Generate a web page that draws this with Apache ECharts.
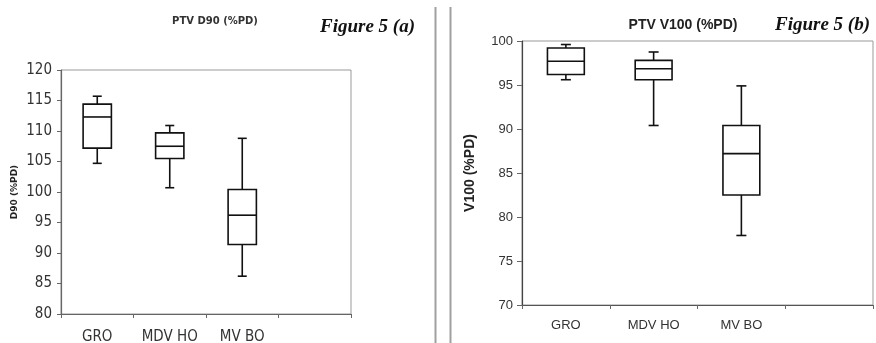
<!DOCTYPE html>
<html>
<head>
<meta charset="utf-8">
<script src="https://cdn.jsdelivr.net/npm/echarts@6/dist/echarts.min.js"></script>
<style>
html,body{margin:0;padding:0;background:#fff;}
#chart{width:876px;height:343px;}
</style>
</head>
<body>
<div id="chart"></div>
<script>
// Categories (4th band is empty in the original figure)
const categories = ['GRO', 'MDV HO', 'MV BO', ''];

// Figure 5 (a): PTV D90 (%PD)  [min, Q1, median, Q3, max]
const d90Min    = [104.7, 100.7, 86.2];
const d90Q1     = [107.2, 105.5, 91.4];
const d90Median = [112.3, 107.5, 96.2];
const d90Q3     = [114.4, 109.7, 100.4];
const d90Max    = [115.7, 110.9, 108.8];

// Figure 5 (b): PTV V100 (%PD)
const v100Min    = [95.6, 90.4, 77.9];
const v100Q1     = [96.2, 95.6, 82.5];
const v100Median = [97.7, 96.85, 87.2];
const v100Q3     = [99.2, 97.8, 90.4];
const v100Max    = [99.6, 98.75, 94.9];

const leftTicks = [80, 85, 90, 95, 100, 105, 110, 115, 120];
const rightTicks = [70, 75, 80, 85, 90, 95, 100];

function buildData(mn, q1, md, q3, mx) {
  return mn.map((v, i) => [i, mn[i], q1[i], md[i], q3[i], mx[i]]);
}

function makeRender(boxFrac, capPx) {
  return function (params, api) {
    const x = api.value(0);
    const pMin = api.coord([x, api.value(1)]);
    const pQ1 = api.coord([x, api.value(2)]);
    const pMed = api.coord([x, api.value(3)]);
    const pQ3 = api.coord([x, api.value(4)]);
    const pMax = api.coord([x, api.value(5)]);
    const band = api.size([1, 0])[0];
    const hw = band * boxFrac / 2;
    const cx = pMed[0];
    const cw = capPx / 2;
    const ls = { stroke: '#111', lineWidth: 1.6, fill: null };
    return {
      type: 'group',
      children: [
        { type: 'line', shape: { x1: cx, y1: pQ3[1], x2: cx, y2: pMax[1] }, style: ls },
        { type: 'line', shape: { x1: cx, y1: pQ1[1], x2: cx, y2: pMin[1] }, style: ls },
        { type: 'line', shape: { x1: cx - cw, y1: pMax[1], x2: cx + cw, y2: pMax[1] }, style: ls },
        { type: 'line', shape: { x1: cx - cw, y1: pMin[1], x2: cx + cw, y2: pMin[1] }, style: ls },
        { type: 'rect', shape: { x: cx - hw, y: pQ3[1], width: 2 * hw, height: pQ1[1] - pQ3[1] },
          style: { fill: '#fff', stroke: '#111', lineWidth: 1.6 } },
        { type: 'line', shape: { x1: cx - hw, y1: pMed[1], x2: cx + hw, y2: pMed[1] }, style: ls }
      ]
    };
  };
}

const narrow = '"DejaVu Sans Condensed", "Liberation Sans", sans-serif';
const regular = '"Liberation Sans", Arial, sans-serif';

const chart = echarts.init(document.getElementById('chart'), null, { renderer: 'canvas' });

chart.setOption({
  animation: false,
  backgroundColor: '#fff',
  title: [
    { text: 'PTV D90 (%PD)', left: 215, top: 16, textAlign: 'center', padding: 0,
      textStyle: { fontFamily: '"DejaVu Sans", sans-serif', fontWeight: 'bold', fontSize: 10, color: '#333' } },
    { text: 'PTV V100 (%PD)', left: 683, top: 18, textAlign: 'center', padding: 0,
      textStyle: { fontFamily: regular, fontWeight: 'bold', fontSize: 14, color: '#222' } }
  ],
  grid: [
    { left: 61, top: 70, width: 290, height: 244, show: true, borderColor: '#999', borderWidth: 1,
      backgroundColor: 'transparent', containLabel: false, outerBoundsMode: 'none' },
    { left: 522, top: 41, width: 351, height: 264, show: true, borderColor: '#999', borderWidth: 1,
      backgroundColor: 'transparent', containLabel: false, outerBoundsMode: 'none' }
  ],
  xAxis: [
    { type: 'category', gridIndex: 0, data: categories,
      axisLine: { lineStyle: { color: '#666', width: 1.2 } },
      axisTick: { show: true, length: 4, lineStyle: { color: '#666' } },
      axisLabel: { interval: 0, margin: 16, fontFamily: narrow, fontSize: 15, color: '#333' },
      splitLine: { show: false } },
    { type: 'category', gridIndex: 1, data: categories,
      axisLine: { lineStyle: { color: '#555', width: 1.2 } },
      axisTick: { show: true, length: 4, lineStyle: { color: '#666' } },
      axisLabel: { interval: 0, margin: 14, fontFamily: regular, fontSize: 13, color: '#333' },
      splitLine: { show: false } }
  ],
  yAxis: [
    { type: 'value', gridIndex: 0, min: leftTicks[0], max: leftTicks[leftTicks.length - 1], interval: 5,
      name: 'D90 (%PD)', nameLocation: 'middle', nameGap: 42, nameRotate: 90,
      nameTextStyle: { fontFamily: '"DejaVu Sans", sans-serif', fontWeight: 'bold', fontSize: 9, color: '#222' },
      axisLine: { show: true, lineStyle: { color: '#666', width: 1.2 } },
      axisTick: { show: true, length: 4, lineStyle: { color: '#666' } },
      axisLabel: { margin: 9, fontFamily: narrow, fontSize: 15, color: '#333' },
      splitLine: { show: false } },
    { type: 'value', gridIndex: 1, min: rightTicks[0], max: rightTicks[rightTicks.length - 1], interval: 5,
      name: 'V100 (%PD)', nameLocation: 'middle', nameGap: 45, nameRotate: 90,
      nameTextStyle: { fontFamily: regular, fontWeight: 'bold', fontSize: 14, color: '#222' },
      axisLine: { show: true, lineStyle: { color: '#444', width: 1.2 } },
      axisTick: { show: true, length: 5, lineStyle: { color: '#666' } },
      axisLabel: { margin: 9, fontFamily: regular, fontSize: 13, color: '#333' },
      splitLine: { show: false } }
  ],
  series: [
    { type: 'custom', xAxisIndex: 0, yAxisIndex: 0,
      renderItem: makeRender(0.39, 9),
      encode: { x: 0, y: [1, 2, 3, 4, 5] },
      data: buildData(d90Min, d90Q1, d90Median, d90Q3, d90Max) },
    { type: 'custom', xAxisIndex: 1, yAxisIndex: 1,
      renderItem: makeRender(0.42, 10),
      encode: { x: 0, y: [1, 2, 3, 4, 5] },
      data: buildData(v100Min, v100Q1, v100Median, v100Q3, v100Max) }
  ],
  graphic: [
    { type: 'line', shape: { x1: 435.5, y1: 7, x2: 435.5, y2: 343 }, style: { stroke: '#a0a0a0', lineWidth: 2 } },
    { type: 'line', shape: { x1: 450.5, y1: 7, x2: 450.5, y2: 343 }, style: { stroke: '#a0a0a0', lineWidth: 2 } },
    { type: 'text', x: 320, y: 27,
      style: { text: 'Figure 5 (a)', fontFamily: '"Liberation Serif", "Times New Roman", serif', fontStyle: 'italic', fontWeight: 'bold', fontSize: 19, fill: '#111', verticalAlign: 'middle', align: 'left' } },
    { type: 'text', x: 775, y: 25,
      style: { text: 'Figure 5 (b)', fontFamily: '"Liberation Serif", "Times New Roman", serif', fontStyle: 'italic', fontWeight: 'bold', fontSize: 19, fill: '#111', verticalAlign: 'middle', align: 'left' } }
  ]
});
</script>
</body>
</html>
